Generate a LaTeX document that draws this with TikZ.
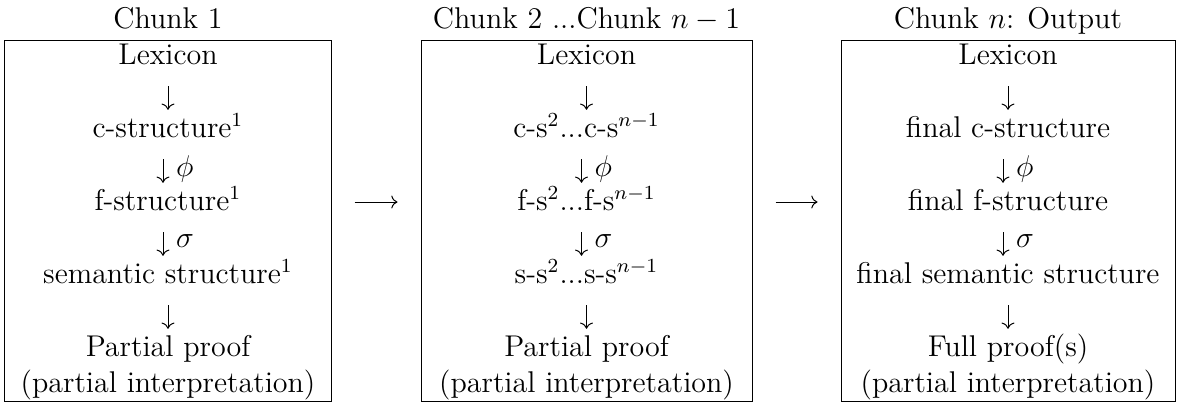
\documentclass[tikz,border=0pt,12pt]{standalone}
\usetikzlibrary{arrows.meta}

\tikzset{
  lvl/.style={anchor=base,inner sep=0pt,text height=8.5pt,text depth=2.5pt},
  dnarrow/.style={-{Computer Modern Rightarrow},shorten <=6.2pt,shorten >=2.2pt},
  chunkbox/.style={draw,minimum height=144.4pt,inner sep=0pt},
  chunkarrow/.style={-{Computer Modern Rightarrow},shorten <=9.2pt,shorten >=9.2pt},
  maplabel/.style={right,inner sep=0pt,xshift=5pt,yshift=-1pt}
}

\begin{document}
\begin{tikzpicture}[x=0.4pt,y=-0.4pt]
  \useasboundingbox (0,0) rectangle (1179,403);
  % frames
  \node[chunkbox,minimum width=130.4pt] (box1) at (168,220.5) {};
  \node[chunkbox,minimum width=132.4pt] (box2) at (586.5,220.5) {};
  \node[chunkbox,minimum width=133.6pt] (box3) at (1008,220.5) {};
  % titles
  \node[lvl] (title1) at (168,28) {Chunk 1};
  \node[lvl] (title2) at (586.5,28) {Chunk 2 ...Chunk $n-1$};
  \node[lvl] (title3) at (1008,28) {Chunk $n$: Output};
  % chunk 1
  \node[lvl] (lex1) at (168,64) {Lexicon};
  \node[lvl] (c1) at (168,137) {c-structure$^1$};
  \node[lvl] (f1) at (168,210) {f-structure$^1$};
  \node[lvl] (s1) at (168,283) {semantic structure$^1$};
  \node[lvl] (pf1) at (168,356) {Partial proof};
  \node[lvl] (int1) at (168,392.5) {(partial interpretation)};
  % chunk 2 ... n-1
  \node[lvl] (lex2) at (586.5,64) {Lexicon};
  \node[lvl] (c2) at (586.5,137) {c-s$^2$...c-s$^{n-1}$};
  \node[lvl] (f2) at (586.5,210) {f-s$^2$...f-s$^{n-1}$};
  \node[lvl] (s2) at (586.5,283) {s-s$^2$...s-s$^{n-1}$};
  \node[lvl] (pf2) at (586.5,356) {Partial proof};
  \node[lvl] (int2) at (586.5,392.5) {(partial interpretation)};
  % chunk n
  \node[lvl] (lex3) at (1008,64) {Lexicon};
  \node[lvl] (c3) at (1008,137) {final c-structure};
  \node[lvl] (f3) at (1008,210) {final f-structure};
  \node[lvl] (s3) at (1008,283) {final semantic structure};
  \node[lvl] (pf3) at (1008,356) {Full proof(s)};
  \node[lvl] (int3) at (1008,392.5) {(partial interpretation)};
  \foreach \i in {1,2,3}{
    \draw[dnarrow] (lex\i) -- (c\i);
    \draw[dnarrow] ([xshift=-2pt]c\i.south) -- ([xshift=-2pt]f\i.north) node[maplabel,midway]{$\phi$};
    \draw[dnarrow] ([xshift=-2pt]f\i.south) -- ([xshift=-2pt]s\i.north) node[maplabel,midway]{$\sigma$};
    \draw[dnarrow] (s\i) -- (pf\i);
  }
  % between chunks
  \coordinate (ax) at (0,202);
  \draw[chunkarrow] (box1.east |- ax) -- (box2.west |- ax);
  \draw[chunkarrow] (box2.east |- ax) -- (box3.west |- ax);
\end{tikzpicture}
\end{document}
